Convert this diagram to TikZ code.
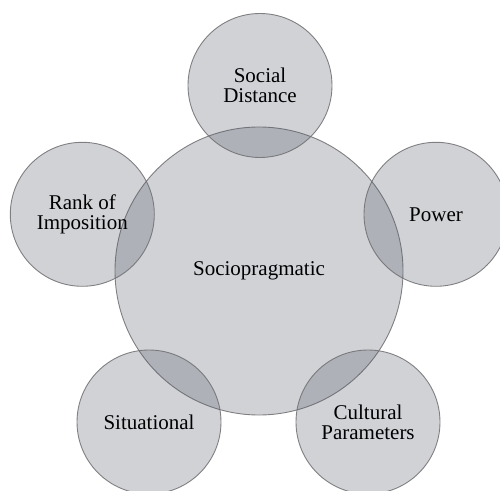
\documentclass[tikz,border=0pt]{standalone}
\usepackage{fontspec}
\setmainfont{Liberation Serif}
\definecolor{bubblefill}{RGB}{81,88,103}
\definecolor{bubbleline}{RGB}{110,110,112}
\begin{document}
\begin{tikzpicture}[x=1pt,y=1pt,
  bubble/.style={circle, fill=bubblefill, fill opacity=0.27, draw=bubbleline, draw opacity=0.85, line width=0.9pt, text opacity=1, text=black, align=center, font=\fontsize{21}{20}\selectfont, inner sep=0pt}]
\clip (0,0) rectangle (500,490);
\useasboundingbox (0,0) rectangle (500,490);
\node[bubble, minimum size=288] (core) at (259,219) {Sociopragmatic};
\node[bubble, minimum size=144] (social) at (260,404.5) {Social\\Distance};
\node[bubble, minimum size=144] (power) at (436,275.7) {Power};
\node[bubble, minimum size=144] (rank) at (82.3,275.7) {Rank of\\Imposition};
\node[bubble, minimum size=144] (situ) at (149,68) {Situational};
\node[bubble, minimum size=144] (cult) at (368,68) {Cultural\\Parameters};
\end{tikzpicture}
\end{document}
